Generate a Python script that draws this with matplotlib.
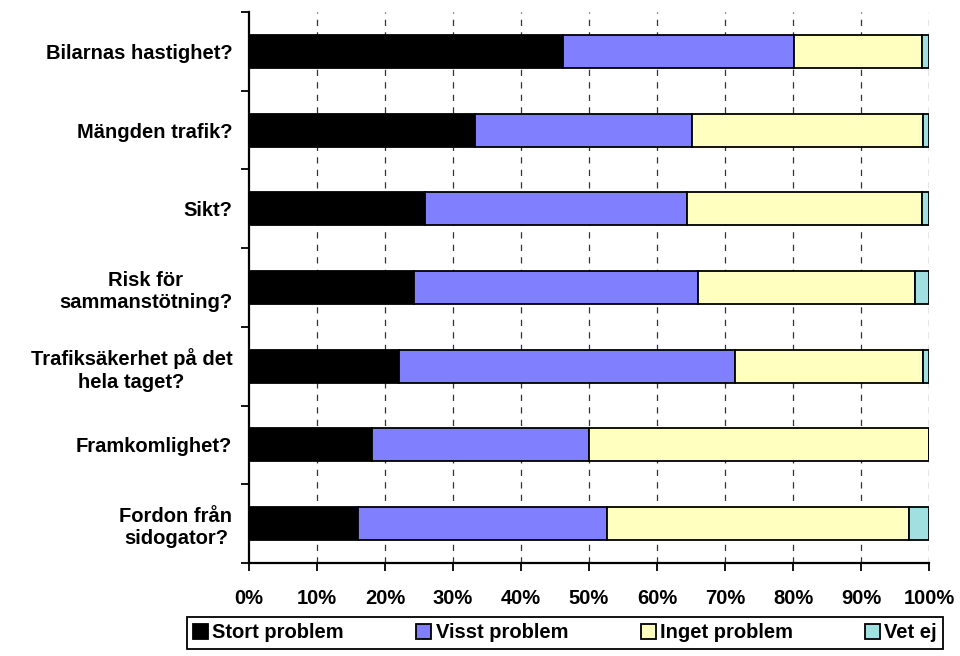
import matplotlib.pyplot as plt
import matplotlib.ticker as mticker
import numpy as np

# ── Survey data (percent of respondents) ──────────────────────────────────────

QUESTIONS = [
    "Bilarnas hastighet?",
    "Mängden trafik?",
    "Sikt?",
    "Risk för\nsammanstötning?",
    "Trafiksäkerhet på det\nhela taget?",
    "Framkomlighet?",
    "Fordon från\nsidogator?",
]
STORT = [46.2, 33.2, 25.9, 24.2, 22.0, 18.1, 16.1]
VISST = [33.9, 31.9, 38.5, 41.9, 49.4, 31.9, 36.5]
INGET = [18.9, 34.0, 34.6, 31.9, 27.7, 50.0, 44.5]
VET_EJ = [1.0, 0.9, 1.0, 2.0, 0.9, 0.0, 2.9]

SERIES = ["Stort problem", "Visst problem", "Inget problem", "Vet ej"]
COLORS = ["#000000", "#8080FF", "#FFFFC0", "#A0E0E0"]

plt.rcParams.update({
    "font.family": ["Liberation Sans", "DejaVu Sans"],
    "font.weight": "bold",
    "font.size": 14.5,
})

fig = plt.figure(figsize=(9.6, 6.56), dpi=100)
ax = fig.add_axes([249 / 960, 1 - 563 / 656, 680 / 960, 551 / 656])

n = len(QUESTIONS)
y = np.arange(n)[::-1]
left = np.zeros(n)
for name, vals, color in zip(SERIES, [STORT, VISST, INGET, VET_EJ], COLORS):
    vals = np.array(vals)
    ax.barh(y, vals, left=left, height=0.42, color=color, edgecolor="black",
            linewidth=1.3, label=name, zorder=3)
    left += vals

ax.set_xlim(0, 100)
ax.set_ylim(-0.5, n - 0.5)

# dashed vertical gridlines
for x in range(10, 101, 10):
    ax.axvline(x, color="#333333", linewidth=0.9, linestyle=(0, (5, 5)), zorder=1)

ax.xaxis.set_major_locator(mticker.MultipleLocator(10))
ax.xaxis.set_major_formatter(mticker.FuncFormatter(lambda v, _: f"{int(v)}%"))
ax.tick_params(axis="x", length=6, width=1.3, direction="out", pad=13)

ax.set_yticks(y)
ax.set_yticklabels(QUESTIONS, ha="right", multialignment="center", linespacing=1.25)
ax.yaxis.set_minor_locator(mticker.FixedLocator(np.arange(-0.5, n, 1.0)))
ax.tick_params(axis="y", which="major", length=0, pad=12)
ax.tick_params(axis="y", which="minor", length=6, width=1.3, direction="out")

for side in ("top", "right"):
    ax.spines[side].set_visible(False)
for side in ("left", "bottom"):
    ax.spines[side].set_linewidth(1.6)

leg = fig.legend(loc="center", bbox_to_anchor=(565 / 960, 1 - 633 / 656), ncol=4,
                 frameon=True, fancybox=False, edgecolor="black", framealpha=1,
                 handlelength=0.75, handleheight=0.75, handletextpad=0.2,
                 columnspacing=3.6, borderpad=0.3, borderaxespad=0)
leg.get_frame().set_linewidth(1.3)

fig.savefig("out.png", dpi=100)
